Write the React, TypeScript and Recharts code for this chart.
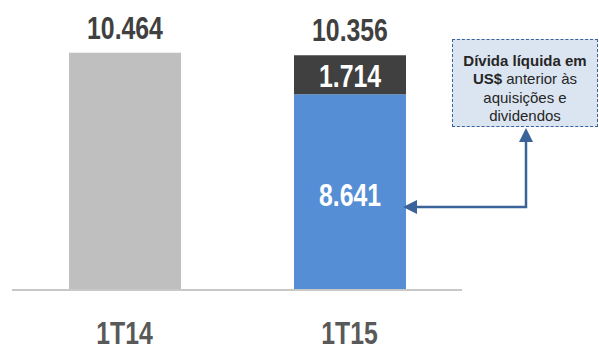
import { Bar, BarChart, LabelList, XAxis, YAxis } from 'recharts';

const categories = ['1T14', '1T15'];
const previousDebt = [10464, 0];
const debtBeforeAcquisitions = [0, 8641];
const acquisitionsAndDividends = [0, 1714];
const totals = [10464, 10356];

const data = categories.map((cat, i) => ({
  cat,
  previous: previousDebt[i],
  base: debtBeforeAcquisitions[i],
  extra: acquisitionsAndDividends[i],
  // total sits on whichever segment is the top of the stack
  totalOnPrevious: acquisitionsAndDividends[i] ? null : totals[i],
  totalOnExtra: acquisitionsAndDividends[i] ? totals[i] : null,
}));

const FONT = '"Liberation Sans", Arial, sans-serif';
const SQUEEZE = 0.8; // narrow bold look of the original deck

const fmt = (v: unknown) => {
  const n = Number(v);
  if (!n) return '';
  return n.toLocaleString('pt-BR');
};

function NarrowText({ x, y, fill, children }: any) {
  return (
    <text
      x={x}
      y={y}
      textAnchor="middle"
      fill={fill}
      fontFamily={FONT}
      fontWeight="bold"
      fontSize={31}
      transform={`translate(${x} 0) scale(${SQUEEZE} 1) translate(${-x} 0)`}
    >
      {children}
    </text>
  );
}

const barLabel = (mode: 'top' | 'center', fill: string, dy = 11) =>
  function Label(props: any) {
    const vb = props.viewBox ?? {};
    const x = Number(props.x ?? vb.x);
    const y = Number(props.y ?? vb.y);
    const width = Number(props.width ?? vb.width);
    const height = Number(props.height ?? vb.height);
    const text = fmt(props.value);
    if (!text) return null;
    const cx = x + width / 2;
    const ty = mode === 'top' ? y - 14 : y + height / 2 + dy;
    return (
      <NarrowText x={cx} y={ty} fill={fill}>
        {text}
      </NarrowText>
    );
  };

function CategoryTick({ x, y, payload }: any) {
  return (
    <NarrowText x={x} y={y + 46} fill="#595959">
      {payload.value}
    </NarrowText>
  );
}

export default function App() {
  return (
    <div style={{ position: 'absolute', left: 0, top: 0, width: 599, height: 344, background: '#fff' }}>
      <BarChart
        width={599}
        height={344}
        data={data}
        margin={{ top: 18, right: 137, left: 12, bottom: 0 }}
        barSize={112}
      >
        <YAxis hide domain={[0, 12000]} />
        <XAxis
          dataKey="cat"
          height={54}
          tickLine={false}
          axisLine={{ stroke: '#c8c8c8', strokeWidth: 2 }}
          tick={<CategoryTick />}
        />
        <Bar dataKey="previous" stackId="a" fill="#bfbfbf" isAnimationActive={false}>
          <LabelList dataKey="totalOnPrevious" content={barLabel('top', '#404040')} />
        </Bar>
        <Bar dataKey="base" stackId="a" fill="#558ed5" isAnimationActive={false}>
          <LabelList dataKey="base" content={barLabel('center', '#ffffff', 14)} />
        </Bar>
        <Bar dataKey="extra" stackId="a" fill="#404040" isAnimationActive={false}>
          <LabelList dataKey="extra" content={barLabel('center', '#ffffff', 12)} />
          <LabelList dataKey="totalOnExtra" content={barLabel('top', '#404040')} />
        </Bar>
      </BarChart>
      <svg
        width={599}
        height={344}
        style={{ position: 'absolute', left: 0, top: 0, pointerEvents: 'none' }}
      >
        <polyline
          points="526,140 526,207 415,207"
          fill="none"
          stroke="#3a6399"
          strokeWidth={2.5}
        />
        <polygon points="526,128 519,142 533,142" fill="#3a6399" />
        <polygon points="403,207 417,200 417,214" fill="#3a6399" />
      </svg>
      <div
        style={{
          position: 'absolute',
          left: 452,
          top: 39,
          width: 146,
          height: 88,
          boxSizing: 'border-box',
          background: '#dbe5f1',
          border: '1.5px dashed #3a6399',
          fontFamily: FONT,
          fontSize: 15,
          lineHeight: '18.3px',
          color: '#262626',
          textAlign: 'center',
          paddingTop: 12,
          whiteSpace: 'nowrap',
        }}
      >
        <b>Dívida líquida em</b>
        <br />
        <b>US$</b> anterior às
        <br />
        aquisições e
        <br />
        dividendos
      </div>
    </div>
  );
}
